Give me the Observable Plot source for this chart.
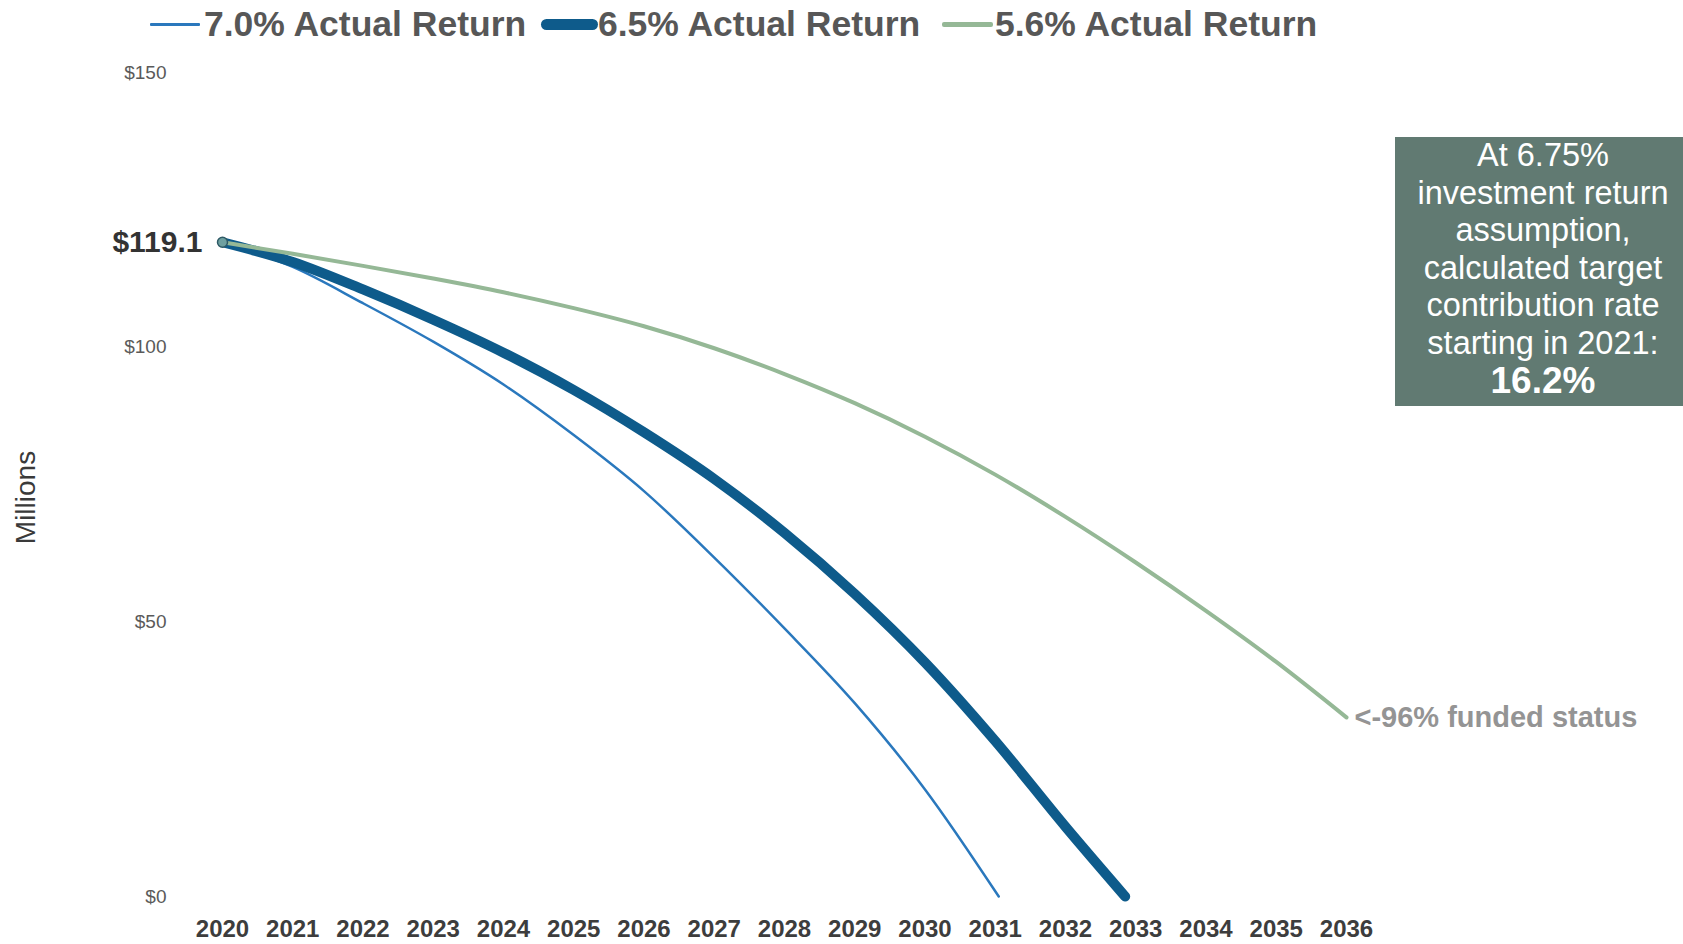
<!DOCTYPE html>
<html>
<head>
<meta charset="utf-8">
<script src="https://cdn.jsdelivr.net/npm/d3@7"></script>
<script src="https://cdn.jsdelivr.net/npm/@observablehq/plot@0.6"></script>
<style>
  html, body { margin: 0; padding: 0; background: #fff; overflow: hidden; width: 1683px; height: 944px; }
  body { font-family: "Liberation Sans", Arial, sans-serif; position: relative; }
  #legend { position: relative; height: 50px; width: 1683px; }
  .sw { position: absolute; }
  .lt { position: absolute; top: 0; height: 48px; line-height: 48px; font-size: 35.5px; font-weight: bold; color: #575757; white-space: nowrap; }
  #note { position: absolute; left: 1395px; top: 137px; width: 296px; height: 269px; background: #617a72; color: #fff;
          text-align: center; font-size: 32.5px; line-height: 37.5px; }
  #note b { font-size: 37px; }
</style>
</head>
<body>
<div id="legend"></div>
<div id="chart"></div>
<div id="note"></div>
<script>
// ---- data ----
const yearTicks = [2020, 2021, 2022, 2023, 2024, 2025, 2026, 2027, 2028, 2029, 2030, 2031, 2032, 2033, 2034, 2035, 2036];
const valueTicks = [0, 50, 100, 150];

const seriesNames = ["7.0% Actual Return", "6.5% Actual Return", "5.6% Actual Return"];

const years70 = [2020, 2021, 2022, 2023, 2024, 2025, 2026, 2027, 2028, 2029, 2030, 2031.05];
const values70 = [119.1, 114.6, 108.0, 101.0, 93.2, 84.0, 73.8, 61.7, 48.8, 35.2, 19.5, 0];

const years65 = [2020, 2021, 2022, 2023, 2024, 2025, 2026, 2027, 2028, 2029, 2030, 2031, 2032, 2032.85];
const values65 = [119.1, 115.5, 110.5, 105.0, 99.0, 92.2, 84.5, 76.0, 66.2, 55.1, 42.6, 28.3, 12.7, 0];

const years56 = [2020, 2021, 2022, 2023, 2024, 2025, 2026, 2027, 2028, 2029, 2030, 2031, 2032, 2033, 2034, 2035, 2036];
const values56 = [119.1, 117.0, 114.8, 112.5, 110.0, 107.1, 103.8, 99.8, 95.1, 89.8, 83.7, 76.8, 69.1, 60.8, 52.0, 42.7, 32.6];

const startLabel = "$119.1";
const endLabel = "<-96% funded status";
const yLabel = "Millions";
const noteLines = ["At 6.75%", "investment return", "assumption,", "calculated target", "contribution rate", "starting in 2021:"];
const noteValue = "16.2%";

// ---- styles ----
const colors = ["#2a78bd", "#0e5b8b", "#95b896"];
const widths = [2.5, 10, 4];

// ---- legend ----
const legend = document.getElementById("legend");
const legendLayout = [
  {swLeft: 150, swW: 50, swH: 3, textLeft: 204, radius: 1},
  {swLeft: 541, swW: 57, swH: 11, textLeft: 598, radius: 6},
  {swLeft: 942, swW: 51, swH: 5, textLeft: 995, radius: 2}
];
seriesNames.forEach((name, i) => {
  const L = legendLayout[i];
  const sw = document.createElement("div");
  sw.className = "sw";
  sw.style.left = L.swLeft + "px";
  sw.style.width = L.swW + "px";
  sw.style.height = L.swH + "px";
  sw.style.top = (24 - L.swH / 2) + "px";
  sw.style.background = colors[i];
  sw.style.borderRadius = L.radius + "px";
  legend.appendChild(sw);
  const t = document.createElement("div");
  t.className = "lt";
  t.style.left = L.textLeft + "px";
  t.textContent = name;
  legend.appendChild(t);
});

// ---- note box ----
const note = document.getElementById("note");
note.innerHTML = noteLines.map(s => `<div>${s}</div>`).join("") + `<div><b>${noteValue}</b></div>`;

// ---- chart data table ----
const rows = [];
[[years70, values70], [years65, values65], [years56, values56]].forEach(([ys, vs], i) => {
  ys.forEach((y, j) => rows.push({series: seriesNames[i], year: y, value: vs[j]}));
});
const lastGreen = {year: years56[years56.length - 1], value: values56[values56.length - 1]};
const first = {year: years56[0], value: values56[0]};

const chart = Plot.plot({
  width: 1683,
  height: 894,
  marginTop: 22,
  marginBottom: 48,
  marginLeft: 222,
  marginRight: 337,
  style: {fontFamily: "'Liberation Sans', Arial, sans-serif", background: "#fff", overflow: "visible"},
  x: {domain: [2020, 2036]},
  y: {domain: [0, 150]},
  marks: [
    Plot.axisX({ticks: yearTicks, tickFormat: d => String(d), tickSize: 0, tickPadding: 23,
                fontSize: 24, fontWeight: "bold", fill: "#3d3d3d", label: null}),
    Plot.axisY({ticks: valueTicks, tickFormat: d => "$" + d, tickSize: 0, tickPadding: 56,
                fontSize: 19, fill: "#5a5a5a", label: null}),
    Plot.text([yLabel], {frameAnchor: "left", textAnchor: "middle", dx: -196, dy: 13, rotate: -90, fontSize: 28, fill: "#3a3a3a"}),
    ...seriesNames.map((name, i) => Plot.line(rows.filter(d => d.series === name), {
      x: "year", y: "value", stroke: colors[i], strokeWidth: widths[i], curve: "monotone-x",
      strokeLinecap: "round", strokeLinejoin: "round"
    })),
    Plot.dot([first], {x: "year", y: "value", r: 5, fill: "#6fa0a0", stroke: "#2f5a66", strokeWidth: 1.5}),
    Plot.text([first], {x: "year", y: "value", text: () => startLabel, textAnchor: "end", dx: -20,
                        fontSize: 30, fontWeight: "bold", fill: "#333"}),
    Plot.text([lastGreen], {x: "year", y: "value", text: () => endLabel, textAnchor: "start", dx: 8,
                            fontSize: 29, fontWeight: "bold", fill: "#949494"})
  ]
});
document.getElementById("chart").appendChild(chart);
</script>
</body>
</html>
